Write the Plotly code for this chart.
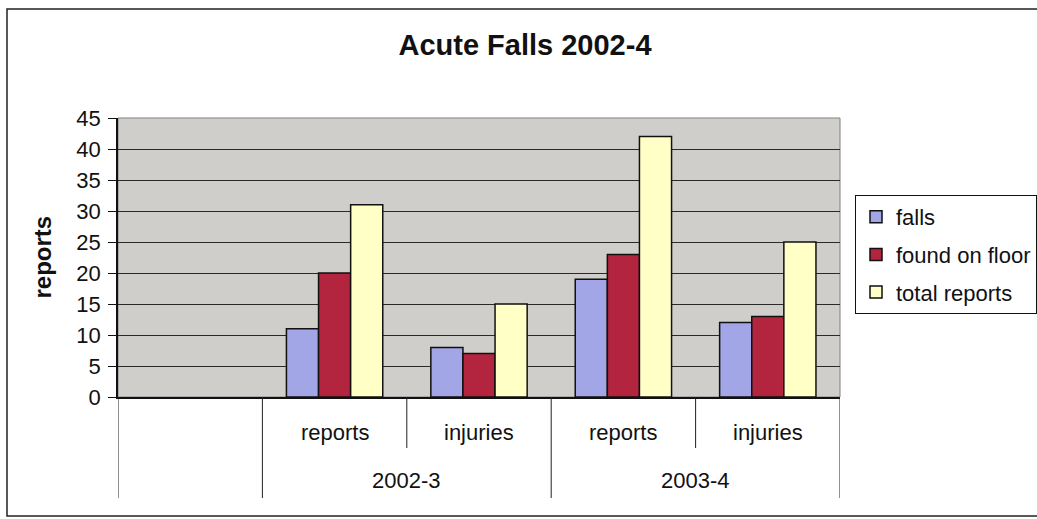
import plotly.graph_objects as go

# Acute falls data, grouped by year and by measure
periods = ["2002-3", "2002-3", "2003-4", "2003-4"]
measures = ["reports", "injuries", "reports", "injuries"]
falls = [11, 8, 19, 12]
found_on_floor = [20, 7, 23, 13]
total_reports = [31, 15, 42, 25]

series_names = ["falls", "found on floor", "total reports"]
series_colors = ["#A3A6E6", "#B3243F", "#FFFFC6"]

# Position 0 is an empty slot on the category axis; the four data slots follow
positions = [1, 2, 3, 4]

W, H = 1037, 519
L, R, T, B = 118, 197, 118, 122
plot_w, plot_h = W - L - R, H - T - B


def px_to_paper_x(px):
    return (px - L) / plot_w


def px_to_paper_y(py):
    return (H - B - py) / plot_h


fig = go.Figure()
for name, vals, col in zip(series_names, [falls, found_on_floor, total_reports], series_colors):
    fig.add_trace(go.Bar(
        x=positions, y=vals, name=name, legendgroup=name,
        marker=dict(color=col, line=dict(color="#111111", width=1.5)),
    ))

font_family = "Liberation Sans, Arial, sans-serif"

annotations = []
shapes = []

# Inner category labels (measure)
for pos, m in zip(positions, measures):
    annotations.append(dict(
        x=pos, xref="x", y=px_to_paper_y(432), yref="paper", yanchor="middle",
        text=m, showarrow=False, font=dict(size=22, color="#111111", family=font_family),
    ))

# Outer category labels (period), centred under their group
groups = []
for pos, p in zip(positions, periods):
    if groups and groups[-1][0] == p:
        groups[-1][1].append(pos)
    else:
        groups.append((p, [pos]))
for p, members in groups:
    annotations.append(dict(
        x=sum(members) / len(members), xref="x", y=px_to_paper_y(480), yref="paper",
        yanchor="middle",
        text=p, showarrow=False, font=dict(size=22, color="#111111", family=font_family),
    ))

# Divider lines of the two-level category axis
long_bottom = px_to_paper_y(498)
short_bottom = px_to_paper_y(448)
boundaries = [0.5 + i for i in range(-1, len(positions) + 1)]
for bx in boundaries:
    if bx < positions[0] - 0.5 or bx > positions[-1] + 0.5:
        y_end = long_bottom
    else:
        idx = int(bx - 0.5)
        left = periods[idx - 1] if idx - 1 >= 0 else None
        right = periods[idx] if idx < len(periods) else None
        y_end = short_bottom if (left is not None and left == right) else long_bottom
    shapes.append(dict(type="line", xref="x", yref="paper", x0=bx, x1=bx, y0=0, y1=y_end,
                       line=dict(color="#222222", width=1)))

# Plot-area frame
shapes.append(dict(type="rect", xref="paper", yref="paper", x0=0, x1=1, y0=0, y1=1,
                   line=dict(color="#808080", width=1), layer="below"))

# Chart border
shapes.append(dict(type="rect", xref="paper", yref="paper",
                   x0=px_to_paper_x(7), x1=px_to_paper_x(1045),
                   y0=px_to_paper_y(516), y1=px_to_paper_y(9),
                   line=dict(color="#222222", width=1.5)))

# Vertical axis title
annotations.append(dict(
    x=px_to_paper_x(42), xref="paper", y=0.5, yref="paper", textangle=-90,
    xanchor="center", yanchor="middle",
    text="<b>reports</b>", showarrow=False,
    font=dict(size=24, color="#111111", family=font_family),
))

fig.update_layout(
    width=W, height=H,
    margin=dict(l=L, r=R, t=T, b=B, pad=0, autoexpand=False),
    paper_bgcolor="white",
    plot_bgcolor="#D0CECA",
    barmode="group",
    bargap=0.333,
    bargroupgap=0,
    font=dict(family=font_family, color="#111111"),
    title=dict(
        text="<b>Acute Falls 2002-4</b>",
        x=525 / W, xanchor="center", y=1 - 45 / H, yanchor="middle",
        font=dict(size=29, color="#111111", family=font_family),
    ),
    xaxis=dict(
        range=[-0.5, 4.5], showticklabels=False, showgrid=False, zeroline=False,
        showline=True, linecolor="#111111", linewidth=1.5, ticks="",
        fixedrange=True,
    ),
    yaxis=dict(
        range=[0, 45], dtick=5, tick0=0,
        showgrid=True, gridcolor="#2A2A2A", gridwidth=1,
        zeroline=False, showline=True, linecolor="#111111", linewidth=1.5,
        ticks="outside", ticklen=8, tickcolor="#111111", tickwidth=1,
        ticklabelstandoff=3,
        tickfont=dict(size=22, color="#111111", family=font_family),
        fixedrange=True,
    ),
    legend=dict(
        x=px_to_paper_x(855), xanchor="left", y=px_to_paper_y(195), yanchor="top",
        bgcolor="white", bordercolor="#111111", borderwidth=1,
        font=dict(size=22, color="#111111", family=font_family),
        tracegroupgap=6, traceorder="grouped", itemwidth=30,
    ),
    annotations=annotations,
    shapes=shapes,
)

fig.write_html("out.html")
